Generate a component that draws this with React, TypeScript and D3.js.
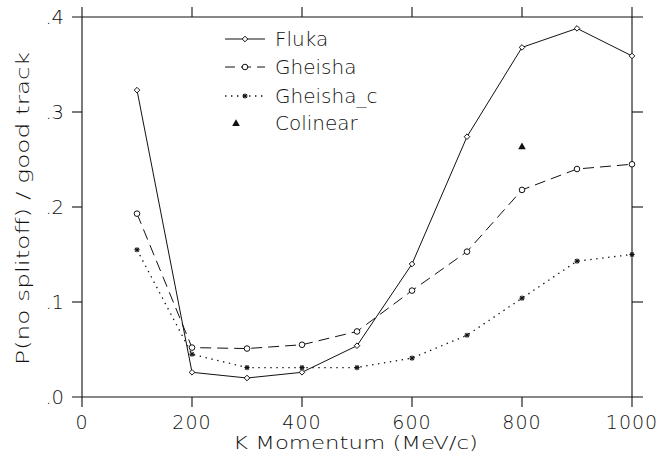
import React from "react";
import * as d3 from "d3";

const momenta = [100, 200, 300, 400, 500, 600, 700, 800, 900, 1000];
const fluka = [0.323, 0.026, 0.020, 0.026, 0.054, 0.140, 0.274, 0.368, 0.388, 0.359];
const gheisha = [0.193, 0.052, 0.051, 0.055, 0.069, 0.112, 0.153, 0.218, 0.240, 0.245];
const gheishaC = [0.155, 0.045, 0.031, 0.031, 0.031, 0.041, 0.065, 0.104, 0.143, 0.150];
const colinearX = [800];
const colinearY = [0.264];
const xTicks = [0, 200, 400, 600, 800, 1000];
const yTicks = [0, 0.1, 0.2, 0.3, 0.4];
const legendLabels = ["Fluka", "Gheisha", "Gheisha_c", "Colinear"];

const W = 657, H = 455;
const X0 = 82, X1 = 632, Y0 = 397, Y1 = 17;
const FONT = "'DejaVu Sans', sans-serif";
const INK = "#111";

function Diamond({ cx, cy }: { cx: number; cy: number }) {
  const s = 2.8;
  return <path d={`M${cx},${cy - s}L${cx + s},${cy}L${cx},${cy + s}L${cx - s},${cy}Z`} fill="#fff" stroke={INK} strokeWidth={1} />;
}
function Circle({ cx, cy }: { cx: number; cy: number }) {
  return <circle cx={cx} cy={cy} r={2.8} fill="#fff" stroke={INK} strokeWidth={1} />;
}
function Star({ cx, cy }: { cx: number; cy: number }) {
  const s = 2.6;
  return (
    <g stroke={INK} strokeWidth={1.1}>
      <line x1={cx - s} y1={cy} x2={cx + s} y2={cy} />
      <line x1={cx} y1={cy - s} x2={cx} y2={cy + s} />
      <line x1={cx - s * 0.75} y1={cy - s * 0.75} x2={cx + s * 0.75} y2={cy + s * 0.75} />
      <line x1={cx - s * 0.75} y1={cy + s * 0.75} x2={cx + s * 0.75} y2={cy - s * 0.75} />
    </g>
  );
}
function Tri({ cx, cy }: { cx: number; cy: number }) {
  const s = 3.8;
  return <path d={`M${cx},${cy - s}L${cx + s},${cy + s * 0.8}L${cx - s},${cy + s * 0.8}Z`} fill={INK} />;
}

export default function App() {
  const x = d3.scaleLinear().domain([0, 1000]).range([X0, X1]);
  const y = d3.scaleLinear().domain([0, 0.4]).range([Y0, Y1]);
  const line = d3.line<[number, number]>().x((d) => x(d[0])).y((d) => y(d[1]));
  const pts = (vals: number[]) => momenta.map((m, i) => [m, vals[i]] as [number, number]);
  const yFmt = (v: number) => d3.format(".1f")(v).replace(/^0/, "");

  const legX = 225, legX2 = 265, legTextX = 275;
  const legY = [39, 67, 96, 123];

  return (
    <svg width={W} height={H} style={{ position: "absolute", left: 0, top: 0, background: "#fff" }}>
      {/* frame */}
      <g stroke={INK} strokeWidth={1.1} fill="none">
        <line x1={72} y1={Y1} x2={643} y2={Y1} />
        <line x1={72} y1={Y0} x2={643} y2={Y0} />
        <line x1={X0} y1={7} x2={X0} y2={407} />
        <line x1={X1} y1={7} x2={X1} y2={407} />
        {xTicks.slice(1, -1).map((t) => (
          <g key={t}>
            <line x1={x(t)} y1={Y1} x2={x(t)} y2={Y1 - 10} />
            <line x1={x(t)} y1={Y0} x2={x(t)} y2={Y0 + 10} />
          </g>
        ))}
        {yTicks.slice(1, -1).map((t) => (
          <g key={t}>
            <line x1={X0 - 10} y1={y(t)} x2={X0} y2={y(t)} />
            <line x1={X1} y1={y(t)} x2={X1 + 11} y2={y(t)} />
          </g>
        ))}
      </g>
      {/* tick labels */}
      <g fontFamily={FONT} fontWeight={200} fill={INK}>
        {xTicks.map((t) => (
          <text key={t} x={x(t)} y={428.5} fontSize={19} textAnchor="middle" letterSpacing={1}>{t}</text>
        ))}
        {yTicks.map((t) => (
          <text key={t} x={64} y={y(t) + 7} fontSize={19.5} textAnchor="end">{yFmt(t)}</text>
        ))}
        <text x={233} y={448.5} fontSize={17} textLength={245} lengthAdjust="spacingAndGlyphs">K  Momentum  (MeV/c)</text>
        <text transform="translate(29,365) rotate(-90)" x={0} y={0} fontSize={18.5} textLength={313} lengthAdjust="spacingAndGlyphs">P(no  splitoff)  /  good  track</text>
      </g>
      {/* series */}
      <g fill="none" stroke={INK} strokeWidth={1}>
        <path d={line(pts(fluka)) || ""} />
        <path d={line(pts(gheisha)) || ""} strokeDasharray="11 6" />
        <path d={line(pts(gheishaC)) || ""} strokeDasharray="1.4 4.6" strokeWidth={1.3} />
      </g>
      {pts(fluka).map((d, i) => <Diamond key={"f" + i} cx={x(d[0])} cy={y(d[1])} />)}
      {pts(gheisha).map((d, i) => <Circle key={"g" + i} cx={x(d[0])} cy={y(d[1])} />)}
      {pts(gheishaC).map((d, i) => <Star key={"c" + i} cx={x(d[0])} cy={y(d[1])} />)}
      {colinearX.map((m, i) => <Tri key={"t" + i} cx={x(m)} cy={y(colinearY[i])} />)}
      {/* legend */}
      <g fill="none" stroke={INK} strokeWidth={1}>
        <line x1={legX} y1={legY[0]} x2={legX2} y2={legY[0]} />
        <line x1={legX} y1={legY[1]} x2={legX2} y2={legY[1]} strokeDasharray="10 6" />
        <line x1={legX} y1={legY[2]} x2={legX2} y2={legY[2]} strokeDasharray="1.4 4.6" strokeWidth={1.3} />
      </g>
      <Diamond cx={245} cy={legY[0]} />
      <Circle cx={245} cy={legY[1]} />
      <Star cx={245} cy={legY[2]} />
      <Tri cx={236} cy={legY[3]} />
      <g fontFamily={FONT} fontWeight={200} fontSize={20} fill={INK}>
        {legendLabels.map((l, i) => (
          <text key={l} x={legTextX} y={legY[i] + 7}>{l}</text>
        ))}
      </g>
    </svg>
  );
}
